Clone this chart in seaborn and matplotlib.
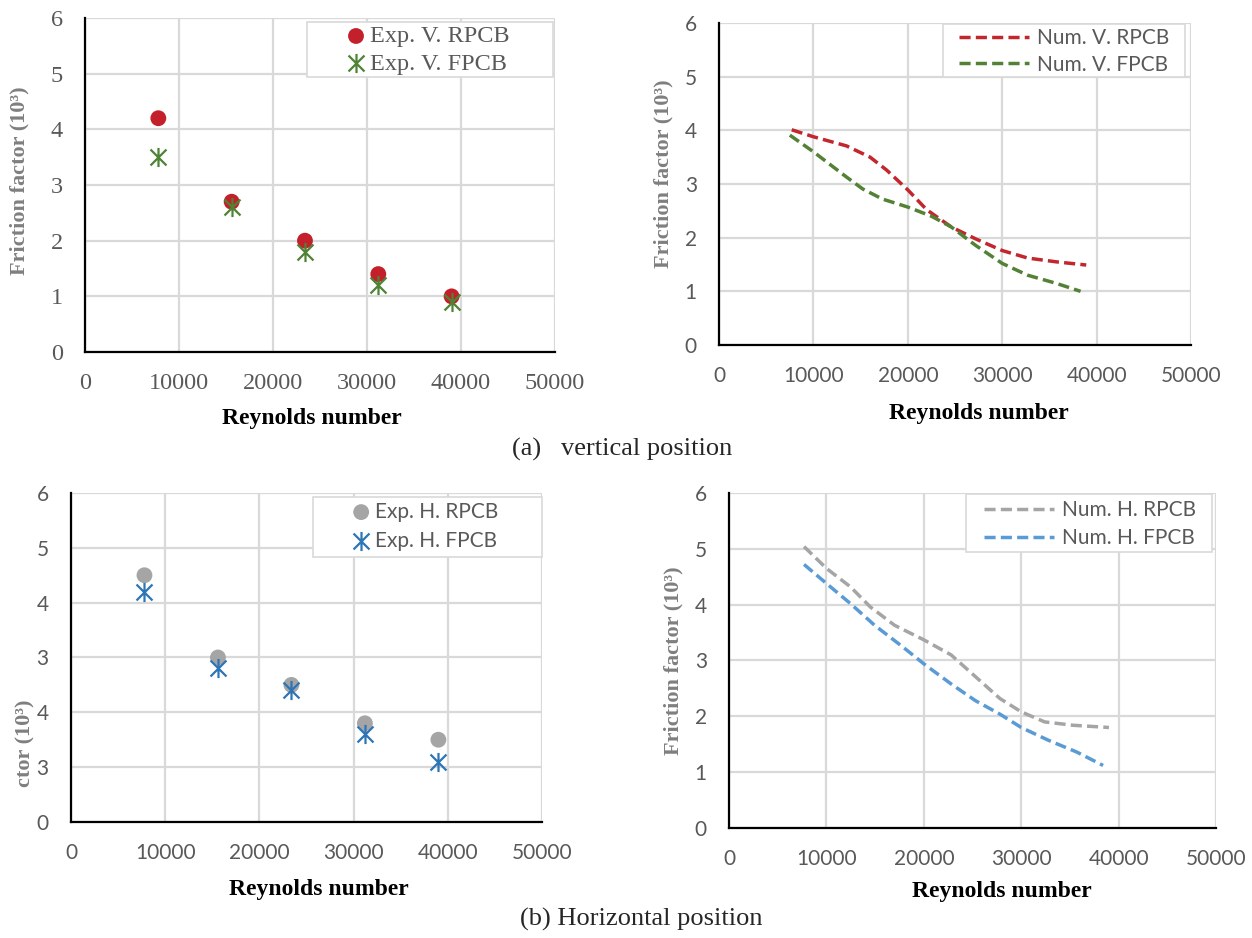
import matplotlib
matplotlib.use("Agg")
import matplotlib.pyplot as plt
from matplotlib.path import Path
from matplotlib.patches import Rectangle
import seaborn as sns

# experimental points (Reynolds number, friction factor x10^3)
re_exp = [7800, 15600, 23400, 31200, 39000]
f_exp_v_rpcb = [4.2, 2.7, 2.0, 1.4, 1.0]
f_exp_v_fpcb = [3.5, 2.6, 1.8, 1.2, 0.9]
f_exp_h_rpcb = [4.5, 3.0, 2.5, 1.8, 1.5]
f_exp_h_fpcb = [4.2, 2.8, 2.4, 1.6, 1.1]

# numerical curves
re_num_v_rpcb = [7700, 10000, 13500, 16000, 17750, 20000, 22000, 24600, 27150, 30000, 32700, 35700, 38900]
f_num_v_rpcb = [4.01, 3.88, 3.71, 3.5, 3.26, 2.89, 2.52, 2.2, 1.98, 1.76, 1.62, 1.55, 1.49]
re_num_v_fpcb = [7500, 10000, 13500, 15200, 17300, 20000, 22500, 24600, 27150, 30000, 32700, 35700, 38300]
f_num_v_fpcb = [3.91, 3.6, 3.13, 2.91, 2.72, 2.57, 2.4, 2.2, 1.86, 1.52, 1.3, 1.15, 1.0]
re_num_h_rpcb = [7700, 10000, 12460, 14500, 17000, 20000, 22800, 25300, 27800, 30000, 32400, 35300, 39000]
f_num_h_rpcb = [5.04, 4.65, 4.32, 3.96, 3.63, 3.37, 3.1, 2.71, 2.32, 2.08, 1.9, 1.84, 1.8]
re_num_h_fpcb = [7700, 10000, 12460, 14950, 17860, 20000, 22800, 25300, 27800, 30000, 32800, 35700, 38400]
f_num_h_fpcb = [4.72, 4.38, 4.02, 3.63, 3.24, 2.94, 2.58, 2.28, 2.04, 1.8, 1.57, 1.36, 1.12]

x_ticks = [0, 10000, 20000, 30000, 40000, 50000]
y_ticks = [0, 1, 2, 3, 4, 5, 6]
bl_ytick_labels = ['0', '3', '4', '3', '4', '5', '6']  # as printed in the source figure

sns.set_style("white")
SERIF = 'Liberation Serif'
SANS = 'Lato'
TICK_GRAY = '#595959'

star = Path([(-1, -1), (1, 1), (-1, 1), (1, -1), (0, -1.2), (0, 1.2)],
            [Path.MOVETO, Path.LINETO, Path.MOVETO, Path.LINETO, Path.MOVETO, Path.LINETO])

fig = plt.figure(figsize=(12.52, 9.38), dpi=100)
ax_tl = fig.add_axes([0.0679, 0.6247, 0.3754, 0.3561])
ax_tr = fig.add_axes([0.5743, 0.6322, 0.3770, 0.3433])
ax_bl = fig.add_axes([0.0567, 0.1237, 0.3762, 0.3507])
ax_br = fig.add_axes([0.5823, 0.1173, 0.3890, 0.3571])


def style_axes(ax, font, size):
    ax.set_xlim(0, 50000)
    ax.set_ylim(0, 6)
    ax.set_xticks(x_ticks)
    ax.set_yticks(y_ticks)
    ax.grid(True, color='#d9d9d9', lw=1.6)
    ax.set_axisbelow(True)
    for s in ['top', 'right']:
        ax.spines[s].set_visible(False)
    for s in ['left', 'bottom']:
        ax.spines[s].set_color('black')
        ax.spines[s].set_linewidth(1.6)
    ax.tick_params(axis='x', length=0, pad=15, labelsize=size, labelcolor=TICK_GRAY)
    ax.tick_params(axis='y', length=0, pad=16, labelsize=size, labelcolor=TICK_GRAY)
    for lbl in ax.get_xticklabels() + ax.get_yticklabels():
        lbl.set_fontfamily(font)


def labels(ax, xpos, ylabel_pos):
    ax.set_xlabel('Reynolds number', fontfamily=SERIF, fontweight='bold', fontsize=17, color='black')
    ax.xaxis.set_label_coords(*xpos)
    if ylabel_pos is not None:
        ax.set_ylabel('Friction factor (10³)', fontfamily=SERIF, fontweight='bold',
                      fontsize=16, color='#7f7f7f')
        ax.yaxis.set_label_coords(*ylabel_pos)
    else:
        ax.set_ylabel('')


def legend_box(ax, x0, x1, y0, y1):
    ax.add_patch(Rectangle((x0, y0), x1 - x0, y1 - y0, transform=ax.transAxes,
                           facecolor='white', edgecolor='#d9d9d9', lw=1.2, zorder=3, clip_on=False))


# (a) vertical, experiments
sns.scatterplot(x=re_exp, y=f_exp_v_rpcb, ax=ax_tl, color='#C4202B', s=130,
                edgecolor='none', label='Exp. V. RPCB', zorder=4)
sns.scatterplot(x=re_exp, y=f_exp_v_fpcb, ax=ax_tl, marker=star, s=190, color='#4E8334',
                edgecolor='#4E8334', linewidth=1.6, label='Exp. V. FPCB', zorder=5)
style_axes(ax_tl, SERIF, 17.5)
labels(ax_tl, (0.483, -0.168), (-0.119, 0.512))
legend_box(ax_tl, 0.472, 0.996, 0.823, 0.988)
ax_tl.legend(loc='upper left', bbox_to_anchor=(0.552, 0.978), frameon=False,
             prop={'family': SERIF, 'size': 17.5}, labelcolor=TICK_GRAY,
             handlelength=0.95, handletextpad=0.12, labelspacing=0.22,
             borderpad=0, borderaxespad=0).set_zorder(6)

# (a) vertical, numerical
dash = (0, (3.2, 1.5))
sns.lineplot(x=re_num_v_rpcb, y=f_num_v_rpcb, ax=ax_tr, color='#C1272D', lw=2.5,
             linestyle=dash, label='Num. V. RPCB', estimator=None, sort=False)
sns.lineplot(x=re_num_v_fpcb, y=f_num_v_fpcb, ax=ax_tr, color='#538135', lw=2.5,
             linestyle=dash, label='Num. V. FPCB', estimator=None, sort=False)
style_axes(ax_tr, SANS, 15)
labels(ax_tr, (0.551, -0.18), (-0.097, 0.531))
legend_box(ax_tr, 0.475, 0.987, 0.832, 0.997)
ax_tr.legend(loc='upper left', bbox_to_anchor=(0.508, 0.983), frameon=False,
             prop={'family': SANS, 'size': 15}, labelcolor=TICK_GRAY,
             handlelength=3.37, handletextpad=0.38, labelspacing=0.3,
             borderpad=0, borderaxespad=0).set_zorder(6)

# (b) horizontal, experiments
sns.scatterplot(x=re_exp, y=f_exp_h_rpcb, ax=ax_bl, color='#A5A5A5', s=130,
                edgecolor='none', label='Exp. H. RPCB', zorder=4)
sns.scatterplot(x=re_exp, y=f_exp_h_fpcb, ax=ax_bl, marker=star, s=190, color='#2E75B6',
                edgecolor='#2E75B6', linewidth=1.6, label='Exp. H. FPCB', zorder=5)
style_axes(ax_bl, SANS, 15)
ax_bl.set_yticklabels(bl_ytick_labels, fontfamily=SANS)
labels(ax_bl, (0.527, -0.173), None)
legend_box(ax_bl, 0.514, 1.0, 0.805, 0.988)
ax_bl.legend(loc='upper left', bbox_to_anchor=(0.594, 0.974), frameon=False,
             prop={'family': SANS, 'size': 15}, labelcolor=TICK_GRAY,
             handlelength=1.0, handletextpad=0.15, labelspacing=0.43,
             borderpad=0, borderaxespad=0).set_zorder(6)
fig.text(15 / 1252, 0.161, 'ctor (10³)', rotation=90, ha='left', va='bottom',
         fontfamily=SERIF, fontweight='bold', fontsize=16, color='#7f7f7f')

# (b) horizontal, numerical
sns.lineplot(x=re_num_h_rpcb, y=f_num_h_rpcb, ax=ax_br, color='#A5A5A5', lw=2.5,
             linestyle=dash, label='Num. H. RPCB', estimator=None, sort=False)
sns.lineplot(x=re_num_h_fpcb, y=f_num_h_fpcb, ax=ax_br, color='#5B9BD5', lw=2.5,
             linestyle=dash, label='Num. H. FPCB', estimator=None, sort=False)
style_axes(ax_br, SANS, 15)
labels(ax_br, (0.56, -0.158), (-0.094, 0.5))
legend_box(ax_br, 0.487, 0.992, 0.824, 0.997)
ax_br.legend(loc='upper left', bbox_to_anchor=(0.524, 0.978), frameon=False,
             prop={'family': SANS, 'size': 15}, labelcolor=TICK_GRAY,
             handlelength=3.37, handletextpad=0.38, labelspacing=0.38,
             borderpad=0, borderaxespad=0).set_zorder(6)

# captions
fig.text(0.4968, 0.5213, '(a)   vertical position', ha='center', va='center',
         fontfamily=SERIF, fontsize=19)
fig.text(0.5124, 0.0203, '(b) Horizontal position', ha='center', va='center',
         fontfamily=SERIF, fontsize=19)

fig.savefig('out.png', dpi=100)
